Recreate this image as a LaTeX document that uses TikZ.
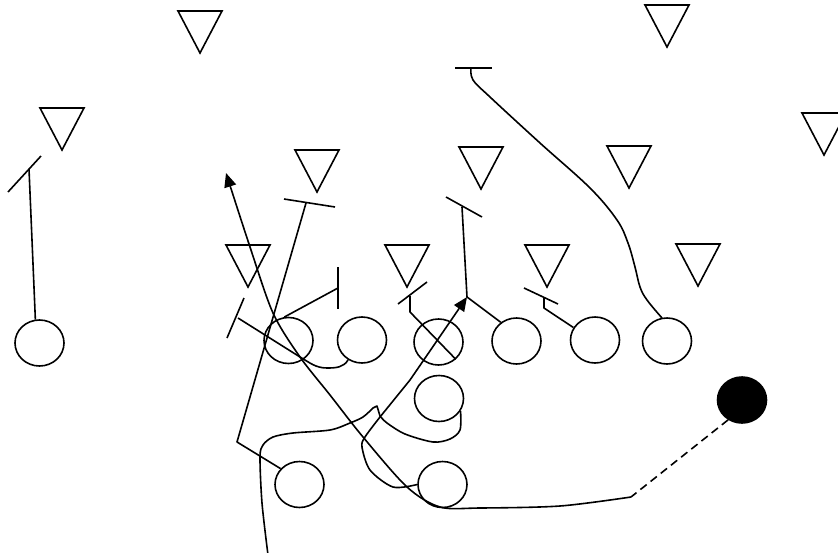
\documentclass[tikz,border=0pt]{standalone}
\usetikzlibrary{shapes.geometric,arrows.meta}
\begin{document}
\begin{tikzpicture}[x=1pt,y=-1pt,line width=1.6pt,
  player/.style={draw,ellipse,minimum width=49pt,minimum height=46pt,inner sep=0pt,line width=1.6pt},
  ballc/.style={player,fill=black},
  route/.style={line width=1.6pt,line join=round},
  arr/.style={-{Triangle[length=14pt,width=12pt]}},
  defn/.pic={\draw[line width=1.6pt] (-22,0) -- (22,0) -- (0,42) -- cycle;}
]
\clip (0,0) rectangle (838,552);
% defenders
\pic at (200,11) {defn};
\pic at (667,5) {defn};
\pic at (62,108) {defn};
\pic at (824,113) {defn};
\pic at (317,150) {defn};
\pic at (481,147) {defn};
\pic at (629,146) {defn};
\pic at (248,245) {defn};
\pic at (407,245) {defn};
\pic at (547,245) {defn};
\pic at (698,244) {defn};
% offense
\node[player] (cl) at (39.5,343) {};
\node[player] (c1) at (288.5,340.5) {};
\node[player] (c2) at (362,340) {};
\node[player] (c3) at (438.5,342) {};
\node[player] (c4) at (516.5,341) {};
\node[player] (c5) at (595,340) {};
\node[player] (c6) at (667,341) {};
\node[player] (c7) at (439,398.5) {};
\node[player] (c8) at (299.5,484.5) {};
\node[player] (c9) at (442.5,484.5) {};
\node[ballc] (ball) at (742,400) {};
% block bars
\draw[route] (8,192) -- (41,156);
\draw[route] (284,199) -- (335,207);
\draw[route] (244,298) -- (227,338);
\draw[route] (338,267) -- (338,309);
\draw[route] (398,304) -- (427,282);
\draw[route] (446,197) -- (482,217);
\draw[route] (524,288) -- (558,304);
\draw[route] (455,68) -- (492,68);
% routes
\coordinate (e0) at (29,169);
\draw[route] (cl.100) -- (e0);
\coordinate (e8) at (306,203);
\draw[route] (c8.140) -- (237,442) -- (e8);
\coordinate (e2) at (238,318);
\draw[route] (c2.235) to[out=240,in=0] (327,368) to[out=180,in=-30] (300,357) -- (e2);
\coordinate (e1) at (338,288);
\draw[route] (c1.100) -- (e1);
\coordinate (e3) at (410,296);
\draw[route] (e3) -- (410,312) -- (c3.-45);
\coordinate (e4) at (462,207);
\draw[route] (c4.130) -- (467,297) -- (e4);
\coordinate (e5) at (544,297);
\draw[route] (c5.150) -- (544,308) -- (e5);
\coordinate (e6) at (471,68);
\draw[route] plot[smooth,tension=0.6] coordinates {(662,318) (647,300) (640,287) (635,267) (628,243) (617,220) (590,188) (540,143) (490,97) (473,80) (471,68)};
% ball path
\coordinate (q1) at (631,497);
\draw[route,dashed,dash pattern=on 8pt off 5pt] (ball.235) -- (q1);
\coordinate (a1) at (226,173);
\draw[route,arr] plot[smooth,tension=0.5] coordinates {(631,497) (560,506) (480,508) (440,507) (407,487) (363,437) (330,395) (300,357) (273,313) (250,247) (226,173)};
% bow route to arrow
\coordinate (a2) at (467,297);
\draw[route,arr] plot[smooth,tension=0.5] coordinates {(c9.west) (393,487) (370,470) (362,447) (365,437) (380,417)} -- (410,380) -- (a2);
% QB path
\coordinate (qb) at (268,555);
\draw[route] plot[smooth,tension=0.5] coordinates {(c7.-30) (460,430) (450,439) (433,442) (405,434) (387,423) (380,416)} -- (377,406) -- plot[smooth,tension=0.5] coordinates {(373,408) (363,417) (350,423) (330,430) (293,433) (273,437) (263,445) (260,457) (262,503) (qb)};
\end{tikzpicture}
\end{document}
